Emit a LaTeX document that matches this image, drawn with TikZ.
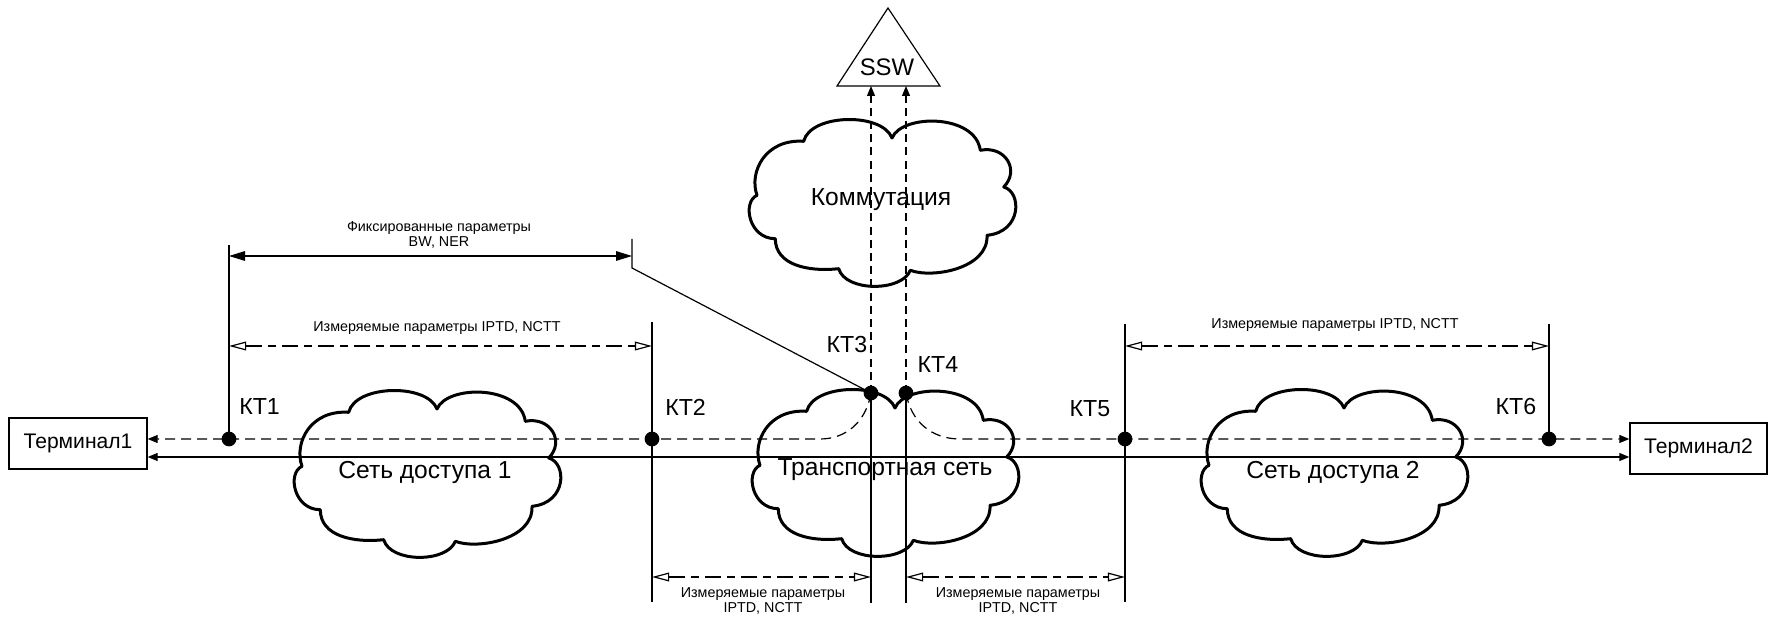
\documentclass[tikz,border=0pt]{standalone}
\usepackage{fontspec}
\setmainfont{Liberation Sans}
\usetikzlibrary{arrows.meta}
\newcommand\drawcloudat[1]{%
  \draw[cloudline,shift={#1}] (144,20)
    .. controls (154,-4.3) and (227.3,-4.3) .. (232.3,32.3)
    .. controls (257.3,27.3) and (272.3,52.3) .. (255.7,69)
    .. controls (274,74) and (274,114) .. (239,117.3)
    .. controls (240.7,150.7) and (184,160.7) .. (162.3,152.3)
    .. controls (154,174) and (97.3,174) .. (90.7,150.7)
    .. controls (60.7,154) and (27.3,147.3) .. (27.3,120.7)
    .. controls (0.7,120.7) and (-6,84) .. (9,77.3)
    .. controls (0.7,54) and (17.3,20.7) .. (55.7,23.3)
    .. controls (62.3,-4.3) and (134,-6) .. (144,20) -- cycle;}
\begin{document}
\begin{tikzpicture}[x=0.25mm,y=-0.25mm,
  ln/.style={line width=0.3mm},
  cloudline/.style={line width=0.75mm,line join=round},
  termbox/.style={draw,line width=0.35mm,inner sep=0pt,minimum height=12.75mm,
    font=\fontsize{15}{18}\selectfont},
  ktdot/.style={circle,fill,inner sep=0pt,minimum size=3.7mm},
  ktlabel/.style={inner sep=0pt,font=\fontsize{16.5}{19}\selectfont},
  biglabel/.style={inner sep=0pt,font=\fontsize{17.5}{20}\selectfont},
  smalllabel/.style={inner sep=0pt,align=center,font=\fontsize{10.2}{11.2}\selectfont},
  mainDash/.style={ln,dash pattern=on 2.5mm off 1.5mm},
  measDash/.style={ln,dash pattern=on 4mm off 1.5mm on 2mm off 1.5mm},
  sswDash/.style={ln,dash pattern=on 2mm off 1.3mm},
  smalltip/.style={-{Triangle[length=2.5mm,width=2mm]}},
  fixarrow/.style={ln,{Triangle[length=4mm,width=2.4mm]}-{Triangle[length=4mm,width=2.4mm]}},
  measarrow/.style={measDash,{Triangle[open,length=4.3mm,width=2.2mm]}-{Triangle[open,length=4.3mm,width=2.2mm]}}
]
\useasboundingbox (0,0) rectangle (1769,617);

% terminals
\node[termbox,minimum width=34.5mm] (T1) at (78,443.5) {Терминал1};
\node[termbox,minimum width=34.25mm] (T2) at (1698.5,448.5) {Терминал2};

% control points
\node[ktdot] (KT1) at (229,439) {};
\node[ktdot] (KT2) at (652,439) {};
\node[ktdot] (KT3) at (871,393) {};
\node[ktdot] (KT4) at (906,393) {};
\node[ktdot] (KT5) at (1125,439) {};
\node[ktdot] (KT6) at (1549,439) {};

\node[ktlabel,anchor=west] (L1) at (239,407) {КТ1};
\node[ktlabel,anchor=west] (L2) at (665,407) {КТ2};
\node[ktlabel] (L3) at (847,345) {КТ3};
\node[ktlabel] (L4) at (938,365) {КТ4};
\node[ktlabel] (L5) at (1090,409) {КТ5};
\node[ktlabel] (L6) at (1516,407) {КТ6};

% helper coordinates
\coordinate (busS) at (0,457);
\coordinate (top1) at (229,245);
\coordinate (top2) at (652,322);
\coordinate (bot2) at (652,602);
\coordinate (top5) at (1125,324);
\coordinate (bot5) at (1125,602);
\coordinate (top6) at (1549,324);
\coordinate (bot3) at (871,603);
\coordinate (bot4) at (906,603);
\coordinate (tickT) at (632,239);
\coordinate (tickB) at (632,268);
\coordinate (fixY) at (0,256);
\coordinate (measTop) at (0,346);
\coordinate (measBot) at (0,577);
\coordinate (curveL) at (820,439);
\coordinate (curveR) at (960,439);

% SSW
\coordinate (sswBase) at (888,86);
\draw[ln] (888,8) -- (940,86) -- (837,86) -- cycle;
\node[inner sep=0pt,font=\fontsize{17}{20}\selectfont] (SSW) at (887,67) {SSW};

% clouds
\drawcloudat{(293,389)}
\drawcloudat{(751,388)}
\drawcloudat{(1200,388)}
\drawcloudat{(748,118)}
\node[biglabel] (C1) at (425,472) {Сеть доступа 1};
\node[biglabel] (C2) at (885,470) {Транспортная сеть};
\node[biglabel] (C3) at (1333,472) {Сеть доступа 2};
\node[biglabel] (C4) at (881,200) {Коммутация};

% main solid line
\draw[ln,{Triangle[length=2.5mm,width=2mm]}-{Triangle[length=2.5mm,width=2mm]}]
  (T1.east |- busS) -- (T2.west |- busS);

% main dashed lines
\draw[mainDash,smalltip] (KT3.center) .. controls (866,422) and (846,439) .. (curveL)
  -- (KT2.center) -- (KT1.center) -- (KT1 -| T1.east);
\draw[mainDash,smalltip] (KT4.center) .. controls (911,422) and (932,439) .. (curveR)
  -- (KT5.center) -- (KT6.center) -- (KT6 -| T2.west);

% dashed up to SSW
\draw[sswDash,smalltip] (KT3.center) -- (KT3 |- sswBase);
\draw[sswDash,smalltip] (KT4.center) -- (KT4 |- sswBase);

% verticals
\draw[ln] (KT1.center) -- (top1);
\draw[ln] (top2) -- (bot2);
\draw[ln] (top5) -- (bot5);
\draw[ln] (KT6.center) -- (top6);
\draw[ln] (KT3.center) -- (bot3);
\draw[ln] (KT4.center) -- (bot4);

% fixed parameters
\draw[fixarrow] (KT1 |- fixY) -- (tickT |- fixY);
\draw[ln] (tickT) -- (tickB) -- (KT3.center);
\node[smalllabel] (FX) at (439,235) {Фиксированные параметры\\BW, NER};

% measured parameters
\draw[measarrow] (KT1 |- measTop) -- (KT2 |- measTop);
\node[smalllabel] (M1) at (437,328) {Измеряемые параметры IPTD, NCTT};
\draw[measarrow] (KT5 |- measTop) -- (KT6 |- measTop);
\node[smalllabel] (M2) at (1335,325) {Измеряемые параметры IPTD, NCTT};
\draw[measarrow] (KT2 |- measBot) -- (KT3 |- measBot);
\node[smalllabel] (M3) at (763,601) {Измеряемые параметры\\IPTD, NCTT};
\draw[measarrow] (KT4 |- measBot) -- (KT5 |- measBot);
\node[smalllabel] (M4) at (1018,601) {Измеряемые параметры\\IPTD, NCTT};
\end{tikzpicture}
\end{document}
